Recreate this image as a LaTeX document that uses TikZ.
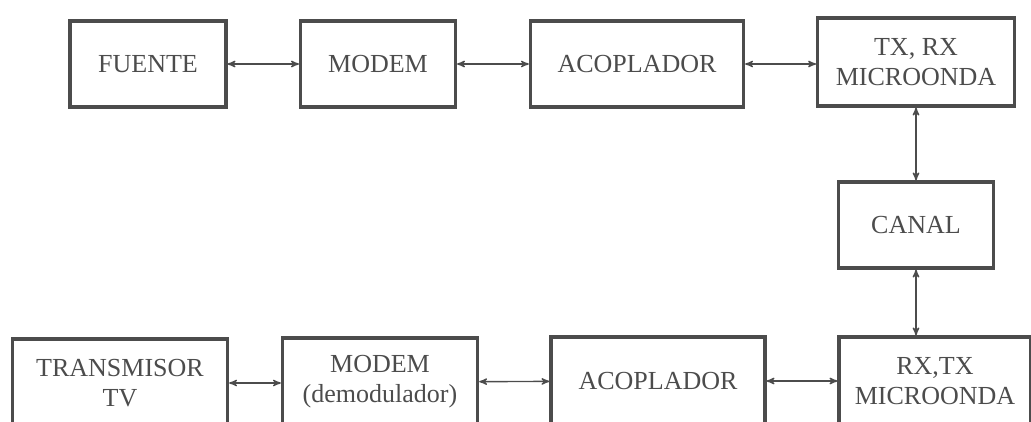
\documentclass[tikz,border=0pt]{standalone}
\usepackage{fontspec}
\setmainfont{Liberation Serif}
\usetikzlibrary{arrows}
\definecolor{ink}{gray}{0.3}
\tikzset{blk/.style={draw=ink, line width=2.2pt, text=ink, align=center, inner sep=0pt,
  minimum height=2.15cm, font=\fontsize{18.5}{21.5}\selectfont},
  lnk/.style={draw=ink, line width=1pt, <->, >=stealth'}}

\begin{document}
\begin{tikzpicture} [x=.025cm, y=-.025cm]
\useasboundingbox (0,0) rectangle (1031,421);
\clip (0,0) rectangle (1031,421);
% upper chain
\node[blk, minimum width=3.9cm] (fuente) at (148,64) {FUENTE};
\node[blk, minimum width=3.875cm] (modem) at (378,64) {MODEM};
\node[blk, minimum width=5.33cm] (acop) at (637,64) {ACOPLADOR};
\node[blk, minimum width=4.92cm, minimum height=2.2cm] (txrx) at (916,62) {TX, RX\\MICROONDA};
\node[blk, minimum width=3.875cm] (canal) at (916,225) {CANAL};
% lower chain (cut by the page edge)
\node[blk, minimum width=5.38cm, minimum height=2.2cm] (tv) at (120,383) {TRANSMISOR\\TV};
\node[blk, minimum width=4.88cm, minimum height=2.2cm] (modemb) at (380,382) {MODEM\\(demodulador)};
\node[blk, minimum width=5.35cm, minimum height=2.2cm] (acopb) at (658,381) {ACOPLADOR};
\node[blk, minimum width=4.8cm, minimum height=2.2cm] (rxtx) at (935,381) {RX,TX\\MICROONDA};
% links
\draw[lnk] (fuente) -- (modem);
\draw[lnk] (modem) -- (acop);
\draw[lnk] (acop.east) -- (acop.east -| txrx.west);
\draw[lnk] (txrx.south) -- (canal.north);
\draw[lnk] (canal.south) -- (canal.south |- rxtx.north);
\draw[lnk] (tv) -- (tv -| modemb.west);
\draw[lnk] (modemb) -- (acopb);
\draw[lnk] (acopb) -- (acopb -| rxtx.west);
\end{tikzpicture}
\end{document}
